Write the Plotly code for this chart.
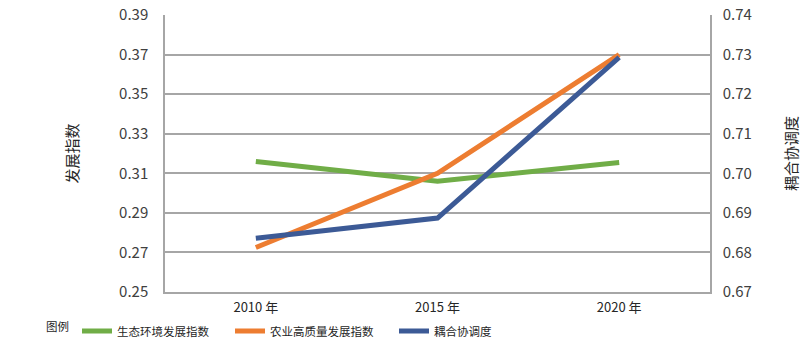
import plotly.graph_objects as go

years = ["2010 年", "2015 年", "2020 年"]
eco_index = [0.316, 0.306, 0.3155]
agri_index = [0.2725, 0.310, 0.370]
coupling = [0.6836, 0.6887, 0.7293]

FONT = "Noto Sans CJK SC"
GREEN = "#70AD47"
ORANGE = "#ED7D31"
BLUE = "#3C5A96"
GRID = "#A6A6A6"

fig = go.Figure()
fig.add_trace(go.Scatter(x=years, y=eco_index, name="生态环境发展指数", mode="lines",
                         line=dict(color=GREEN, width=5), legend="legend"))
fig.add_trace(go.Scatter(x=years, y=agri_index, name="农业高质量发展指数", mode="lines",
                         line=dict(color=ORANGE, width=5), legend="legend2"))
fig.add_trace(go.Scatter(x=years, y=coupling, name="耦合协调度", mode="lines",
                         line=dict(color=BLUE, width=5), yaxis="y2", legend="legend3"))

leg_common = dict(orientation="h", xref="container", yref="container",
                  xanchor="left", yanchor="middle",
                  font=dict(family=FONT, size=11.5, color="#262626"),
                  bgcolor="rgba(0,0,0,0)", borderwidth=0, itemwidth=30)
LEG_Y = 1 - 331 / 350

fig.update_layout(
    width=806, height=350,
    margin=dict(l=165, r=96, t=15, b=58, autoexpand=False),
    paper_bgcolor="white", plot_bgcolor="white",
    font=dict(family=FONT, size=15, color="#404040"),
    showlegend=True,
    legend=dict(x=44 / 806, y=LEG_Y, **leg_common,
                title=dict(text="图例", side="left", font=dict(family=FONT, size=11.5, color="#262626"))),
    legend2=dict(x=230 / 806, y=LEG_Y, **leg_common),
    legend3=dict(x=394 / 806, y=LEG_Y, **leg_common),
    xaxis=dict(type="category", range=[-0.5, 2.5], showgrid=False, showline=True,
               linecolor=GRID, linewidth=1.5, ticks="", tickfont=dict(size=13, color="#262626"),
               ticklabelstandoff=3, fixedrange=True),
    yaxis=dict(range=[0.25, 0.39], dtick=0.02, tick0=0.25, tickformat=".2f",
               showgrid=True, gridcolor=GRID, gridwidth=1.5, showline=True,
               linecolor=GRID, linewidth=1.5, ticks="", zeroline=False,
               ticklabelstandoff=12,
               title=dict(text="发展指数", standoff=37, font=dict(size=15, color="#262626"))),
    yaxis2=dict(range=[0.67, 0.74], dtick=0.01, tick0=0.67, tickformat=".2f",
                overlaying="y", side="right", showgrid=False, showline=True,
                linecolor=GRID, linewidth=1.5, ticks="", zeroline=False,
                ticklabelstandoff=8,
                title=dict(text="耦合协调度", standoff=36, font=dict(size=15, color="#262626"))),
)

fig.write_html("out.html")
